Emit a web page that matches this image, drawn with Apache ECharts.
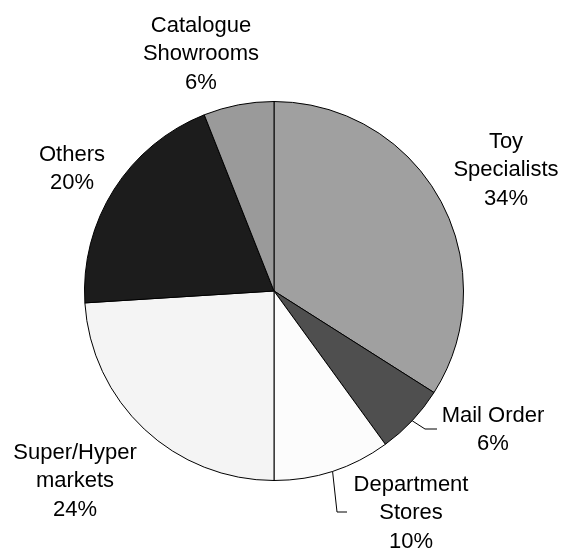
<!DOCTYPE html>
<html>
<head>
<meta charset="utf-8">
<script src="https://cdn.jsdelivr.net/npm/echarts@6/dist/echarts.min.js"></script>
<style>
html,body{margin:0;padding:0;background:#fff;}
#chart{width:564px;height:551px;}
</style>
</head>
<body>
<div id="chart"></div>
<script>
// ---- data ----
var categories = ['Toy Specialists', 'Mail Order', 'Department Stores', 'Super/Hyper markets', 'Others', 'Catalogue Showrooms'];
var labelTexts = ['Toy\nSpecialists', 'Mail Order', 'Department\nStores', 'Super/Hyper\nmarkets', 'Others', 'Catalogue\nShowrooms'];
var shares = [34, 6, 10, 24, 20, 6];

// ---- style / layout ----
var colors = ['#a0a0a0', '#4f4f4f', '#fcfcfc', '#f4f4f4', '#1c1c1c', '#9a9a9a'];
var CX = 274, CY = 291, R = 189.5;
// label block centers, relative to pie centre
var labelOffsets = [[232, -121], [219, 139], [137, 222], [-199, 190], [-202, -122], [-73, -237]];
// leader line bend / end points, relative to pie centre (null = no leader)
var leaderBends = [null, [[151, 138], [163, 138]], [[63, 221], [73, 221]], null, null, null];

var chart = echarts.init(document.getElementById('chart'), null, {renderer: 'canvas'});

var data = categories.map(function (c, i) {
  return {
    name: c,
    value: shares[i],
    itemStyle: {color: colors[i]},
    label: {formatter: labelTexts[i] + '\n' + shares[i] + '%'},
    labelLine: {show: !!leaderBends[i]}
  };
});

chart.setOption({
  animation: false,
  backgroundColor: '#ffffff',
  series: [{
    type: 'pie',
    center: [CX, CY],
    radius: [0, R],
    startAngle: 90,
    clockwise: true,
    avoidLabelOverlap: false,
    data: data,
    itemStyle: {borderColor: '#000000', borderWidth: 1},
    emphasis: {disabled: true},
    label: {
      show: true,
      position: 'outside',
      fontFamily: '"Liberation Sans", Arial, sans-serif',
      fontSize: 22,
      lineHeight: 28.5,
      color: '#000000',
      align: 'center'
    },
    labelLine: {
      show: true,
      length: 10,
      length2: 10,
      smooth: false,
      lineStyle: {color: '#000000', width: 1}
    },
    labelLayout: function (params) {
      var i = params.dataIndex;
      var off = labelOffsets[i];
      var res = {
        x: CX + off[0],
        y: CY + off[1],
        align: 'center',
        verticalAlign: 'middle'
      };
      var b = leaderBends[i];
      if (b && params.labelLinePoints) {
        var p0 = params.labelLinePoints[0];
        res.labelLinePoints = [
          [p0[0], p0[1]],
          [CX + b[0][0], CY + b[0][1]],
          [CX + b[1][0], CY + b[1][1]]
        ];
      }
      return res;
    }
  }]
});
</script>
</body>
</html>
